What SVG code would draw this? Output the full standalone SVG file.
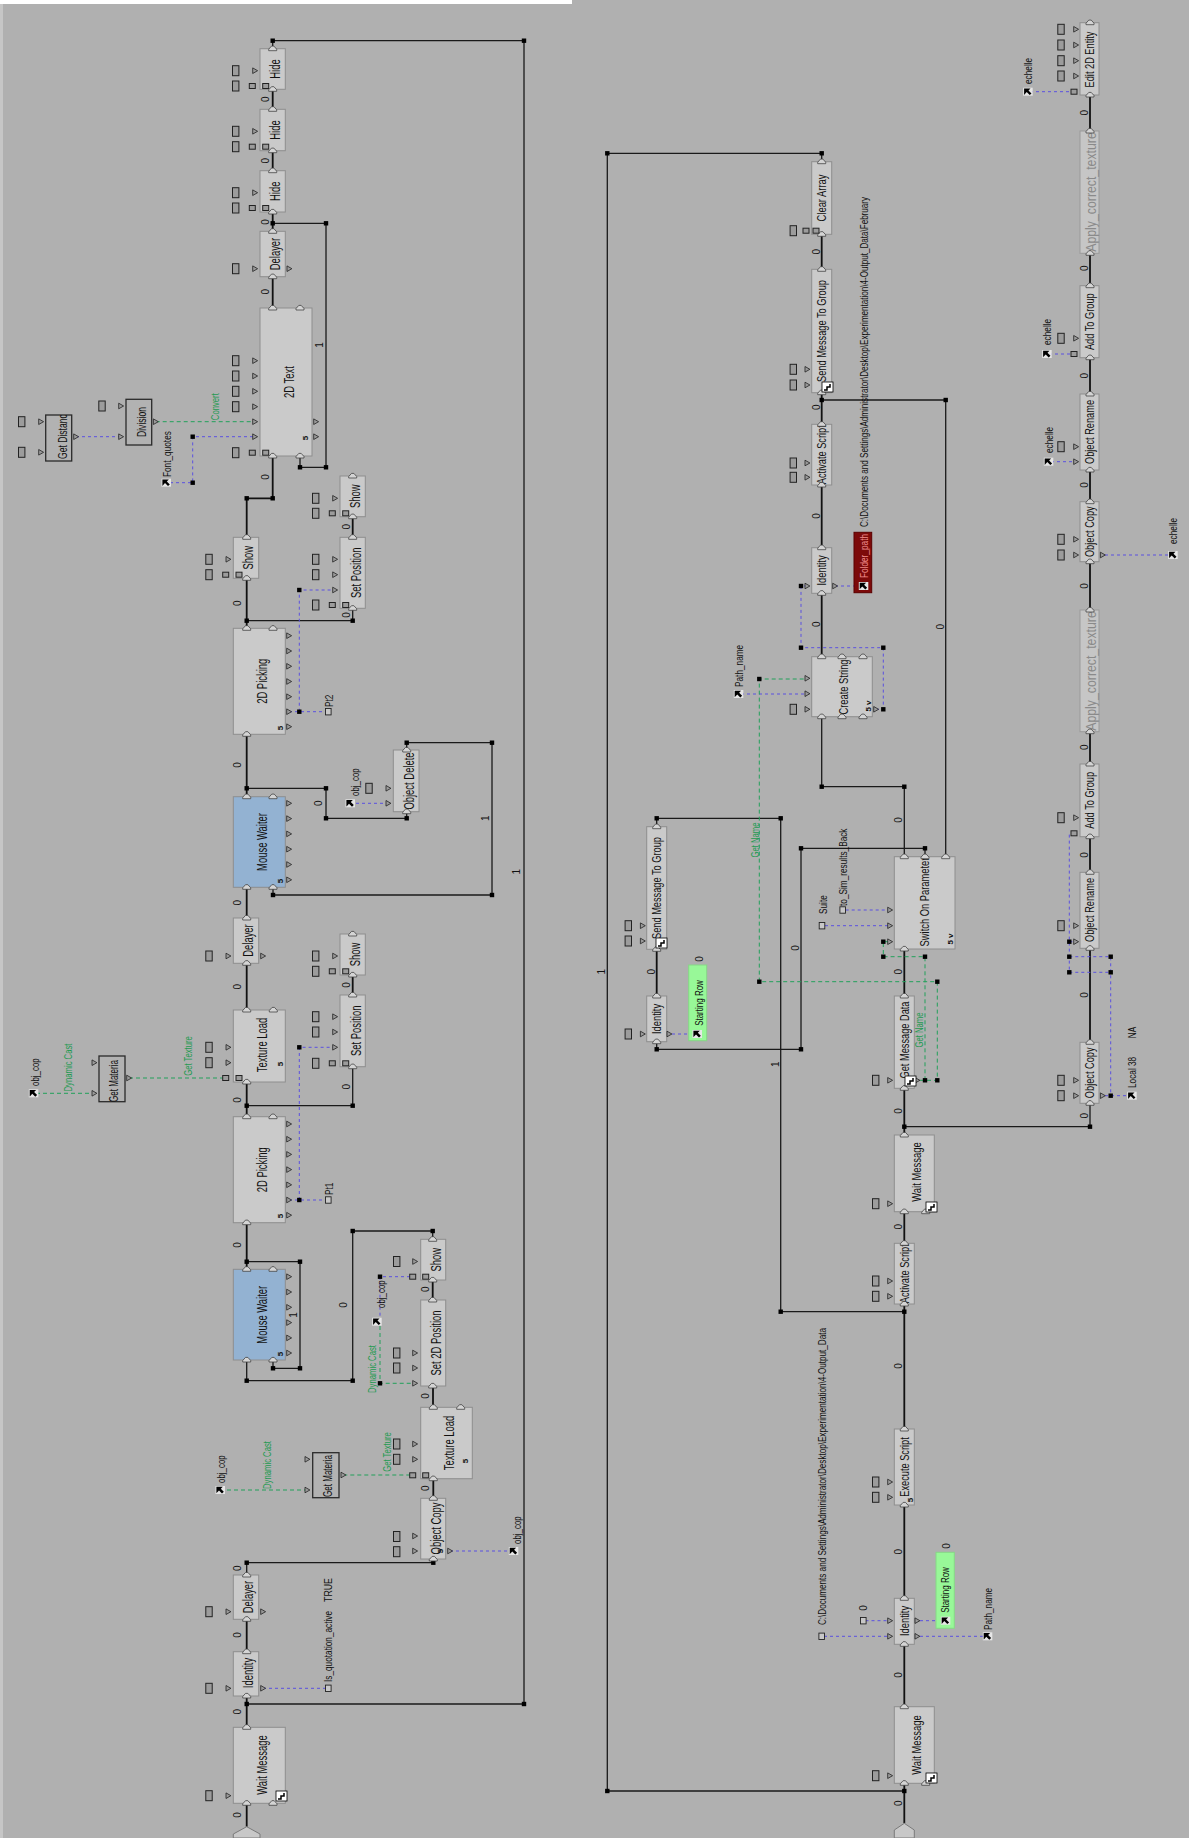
<svg xmlns="http://www.w3.org/2000/svg" width="1189" height="1838" viewBox="0 0 1189 1838">
<style>
.b{fill:#cacaca;stroke:#8e8e8e;stroke-width:1}
.ap{fill:#c6c6c6;stroke:#9a9a9a;stroke-width:1}
.mw{fill:#93b2d2;stroke:#8e8e8e;stroke-width:1}
.op{fill:#b2b2b2;stroke:#2a2a2a;stroke-width:1.3}
.gr{fill:#98f898;stroke:#86d886;stroke-width:1}
text{font-family:"Liberation Sans",Arial,sans-serif;fill:#111}
.L{font-size:15px;text-anchor:middle}
.R{font-size:12px;text-anchor:middle}
.A{font-size:15px;text-anchor:middle;fill:#8a8a8a}
.S{font-size:11px}
.G{font-size:11px;fill:#1e9a50;text-anchor:middle}
.Z{font-size:10px;text-anchor:middle}
.F{font-size:8px;font-weight:bold;text-anchor:middle}
.f{fill:none;stroke:#111;stroke-width:1.8}
.l{fill:none;stroke:#1a1a1a;stroke-width:1.3}
.pb{fill:none;stroke:#5a50e0;stroke-width:1;stroke-dasharray:3 3}
.pg{fill:none;stroke:#22a05a;stroke-width:1;stroke-dasharray:4 3}
</style>
<defs>
<path id="fp" d="M-4,2V0.5L-1.2,-2.6H1.2L4,0.5V2Z" fill="#d4d4d4" stroke="#444" stroke-width="0.8"/>
<path id="pi" d="M-2.3,-2.8L2.6,0L-2.3,2.8Z" fill="#9a9a9a" stroke="#222" stroke-width="0.8"/>
<rect id="sq" x="-3.2" y="-5" width="6.4" height="10" fill="#9c9c9c" stroke="#222" stroke-width="1"/>
<rect id="ss" x="-3" y="-2.5" width="6" height="5" fill="#9c9c9c" stroke="#222" stroke-width="1"/>
<rect id="so" x="-2.8" y="-3.2" width="5.6" height="6.4" fill="#c8c8c8" stroke="#222" stroke-width="0.9"/>
<rect id="jn" x="-2.2" y="-2.2" width="4.4" height="4.4" fill="#000"/>
<g id="ptr"><rect x="-4.5" y="-4" width="9.5" height="8" fill="#e6e6e6"/><path d="M-3.6,3.2V-3.2H2.8L0.8,-1.2L3.8,1.8L2,3.4L-1,0.4L-3,2.6Z" fill="#000"/></g>
<g id="wi"><rect x="0" y="0" width="11" height="10" fill="#fff" stroke="#000" stroke-width="0.8"/><path d="M2,8H5V5H8V2" fill="none" stroke="#000" stroke-width="1.5"/></g>
<clipPath id="cgd"><rect x="45.7" y="415" width="26" height="46"/></clipPath>
</defs>
<rect x="0" y="0" width="1189" height="1838" fill="#b0b0b0"/>
<rect x="0" y="0" width="572" height="4" fill="#ffffff"/>
<rect x="0" y="4" width="3" height="1834" fill="#c6c6c6"/>

<g id="connectors">
<path class="f" d="M272.7 89.3V109.3M272.7 150.7V170.7M272.7 212V231.3M272.7 276.7V308"/>
<path class="l" d="M272.7 48.7V40.7H524V1704H246.7"/>
<path class="l" d="M300 456V467.3H326V223.3H272.7"/>
<path class="f" d="M272.7 456V498.3H246.7V537.3M246.7 578.3V628.3M352.7 537.3V516.7M246.7 734.3V796.7"/>
<path class="l" d="M246.7 620.7H352.7V608.3M246.7 788.3H326V818.3H406.7V811.7"/>
<path class="l" d="M406.7 750V742.7H492V895H273V887.3"/>
<path class="f" d="M246.7 887.3V918M246.7 963.3V1010M246.7 1082V1116.7M352.7 995V975M246.7 1222.7V1269.3"/>
<path class="l" d="M246.7 1105.7H352.7V1066.7M246.7 1261.7H300V1368.3H273V1360"/>
<path class="l" d="M432.7 1239.3V1231H352.7V1380.7H246.7V1360"/>
<path class="f" d="M432.7 1280V1300M433 1386V1407.3M433.3 1478.7V1498.3"/>
<path class="l" d="M433.3 1559V1562.7H246.7V1575"/>
<path class="f" d="M246.7 1619.3V1651.7M246.7 1696V1727.3M246.7 1803.3V1826.7"/>
<path class="l" d="M821.7 161.7V153.3H607.3V1791H904.3"/>
<path class="f" d="M821.7 234.3V269.3M821.7 392.7V424.3M821.7 485V547.7M821.7 593.3V656.7"/>
<path class="l" d="M821.7 400H945.7V856.7M821.7 716.7V786.7H904.3V856.7"/>
<path class="l" d="M925 856.7V848.3H801V1049.3H656.7V1041.7"/>
<path class="f" d="M656.7 949.3V996"/>
<path class="l" d="M656.7 826.7V818.3H780.7V1311.7H904.3"/>
<path class="f" d="M904.3 949V996M904.3 1088.3V1135M904.3 1211.7V1243.3M904.3 1304V1429M904.3 1505V1598.3M904.3 1644.3V1706.7M904.3 1783.3V1823.3"/>
<path class="l" d="M904.3 1126.7H1090V1103.3"/>
<path class="f" d="M1090 95V131M1090 253.3V285.7M1090 357.7V394M1090 470V501.7M1090 561.7V610M1090 731.7V764M1090 836.7V872.3M1090 948.3V1042.3"/>
<path class="pb" d="M76 436.7H119M170 482.7H192.7V436.7H253M289 711.7H326M299.3 711.7V590H333M289 1200H326M299.3 1200V1047.3H333M350 803.3H386M263 1688.3H326M450 1551H510M380 1321.7V1276.7H410"/>
<path class="pg" d="M155.7 421.7H253M129 1078H223M36 1093.3H92M343.3 1475H410M220 1490H305M380 1326V1383.3H413"/>
<path class="pb" d="M835 586H860M876 709.3H883.3V647.7H801V586H805M741 694H805M825 925.7H888M845.7 910H888M672 1034H694M865.5 1620.7H888M824 1636.3H888M920 1620.7H943M920 1636.3H985M1030 91.7H1072M1049 354H1072M1051 461.7H1074M1105 555H1170M1074 833.3H1069.3V972.3M1069.3 941.7H1074M1069.3 956.7H1110.7V1095.7M1069.3 972.3H1110.7M1105 1095.7H1129"/>
<path class="pg" d="M920 1080.3H937.3V981.7H759.3V679H805M925 1080.3V956.7H883.3V941.7H888"/>
<g id="junctions">
<use href="#jn" x="272.7" y="40.7"/><use href="#jn" x="524" y="40.7"/><use href="#jn" x="524" y="1704"/><use href="#jn" x="246.7" y="1704"/>
<use href="#jn" x="272.7" y="223.3"/><use href="#jn" x="326" y="223.3"/><use href="#jn" x="300" y="467.3"/><use href="#jn" x="326" y="467.3"/>
<use href="#jn" x="272.7" y="498.3"/><use href="#jn" x="246.7" y="498.3"/><use href="#jn" x="246.7" y="620.7"/><use href="#jn" x="352.7" y="620.7"/>
<use href="#jn" x="246.7" y="788.3"/><use href="#jn" x="326" y="788.3"/><use href="#jn" x="326" y="818.3"/><use href="#jn" x="406.7" y="818.3"/>
<use href="#jn" x="406.7" y="742.7"/><use href="#jn" x="492" y="742.7"/><use href="#jn" x="492" y="895"/><use href="#jn" x="273" y="895"/>
<use href="#jn" x="246.7" y="1105.7"/><use href="#jn" x="352.7" y="1105.7"/><use href="#jn" x="246.7" y="1261.7"/><use href="#jn" x="300" y="1261.7"/>
<use href="#jn" x="300" y="1368.3"/><use href="#jn" x="273" y="1368.3"/><use href="#jn" x="432.7" y="1231"/><use href="#jn" x="352.7" y="1231"/>
<use href="#jn" x="352.7" y="1380.7"/><use href="#jn" x="246.7" y="1380.7"/><use href="#jn" x="433.3" y="1562.7"/><use href="#jn" x="246.7" y="1562.7"/>
<use href="#jn" x="192.7" y="482.7"/><use href="#jn" x="192.7" y="436.7"/><use href="#jn" x="299.3" y="711.7"/><use href="#jn" x="299.3" y="590"/>
<use href="#jn" x="299.3" y="1200"/><use href="#jn" x="299.3" y="1047.3"/><use href="#jn" x="380" y="1276.7"/><use href="#jn" x="380" y="1383.3"/>
<use href="#jn" x="821.7" y="153.3"/><use href="#jn" x="607.3" y="153.3"/><use href="#jn" x="607.3" y="1791"/><use href="#jn" x="904.3" y="1791"/>
<use href="#jn" x="821.7" y="400"/><use href="#jn" x="945.7" y="400"/><use href="#jn" x="821.7" y="786.7"/><use href="#jn" x="904.3" y="786.7"/>
<use href="#jn" x="925" y="848.3"/><use href="#jn" x="801" y="848.3"/><use href="#jn" x="801" y="1049.3"/><use href="#jn" x="656.7" y="1049.3"/>
<use href="#jn" x="656.7" y="818.3"/><use href="#jn" x="780.7" y="818.3"/><use href="#jn" x="780.7" y="1311.7"/><use href="#jn" x="904.3" y="1311.7"/>
<use href="#jn" x="904.3" y="1126.7"/><use href="#jn" x="1090" y="1126.7"/><use href="#jn" x="883.3" y="709.3"/><use href="#jn" x="883.3" y="647.7"/>
<use href="#jn" x="801" y="647.7"/><use href="#jn" x="801" y="586"/><use href="#jn" x="759.3" y="679"/><use href="#jn" x="759.3" y="981.7"/>
<use href="#jn" x="937.3" y="981.7"/><use href="#jn" x="937.3" y="1080.3"/><use href="#jn" x="925" y="1080.3"/><use href="#jn" x="925" y="956.7"/>
<use href="#jn" x="883.3" y="956.7"/><use href="#jn" x="883.3" y="941.7"/><use href="#jn" x="1069.3" y="941.7"/><use href="#jn" x="1069.3" y="956.7"/>
<use href="#jn" x="1069.3" y="972.3"/><use href="#jn" x="1110.7" y="956.7"/><use href="#jn" x="1110.7" y="972.3"/><use href="#jn" x="1110.7" y="1095.7"/>
</g>
<g id="link-labels">
<text class="Z" transform="translate(269 99.3) rotate(-90)">0</text>
<text class="Z" transform="translate(269 160.7) rotate(-90)">0</text>
<text class="Z" transform="translate(269 222) rotate(-90)">0</text>
<text class="Z" transform="translate(269 291.7) rotate(-90)">0</text>
<text class="Z" transform="translate(322.5 345) rotate(-90)">1</text>
<text class="Z" transform="translate(269 477) rotate(-90)">0</text>
<text class="Z" transform="translate(241 603.3) rotate(-90)">0</text>
<text class="Z" transform="translate(350 615) rotate(-90)">0</text>
<text class="Z" transform="translate(350 526.7) rotate(-90)">0</text>
<text class="Z" transform="translate(241 765) rotate(-90)">0</text>
<text class="Z" transform="translate(321.5 803.3) rotate(-90)">0</text>
<text class="Z" transform="translate(488.5 818.3) rotate(-90)">1</text>
<text class="Z" transform="translate(520 871.7) rotate(-90)">1</text>
<text class="Z" transform="translate(241 902.7) rotate(-90)">0</text>
<text class="Z" transform="translate(241 986.7) rotate(-90)">0</text>
<text class="Z" transform="translate(350 985) rotate(-90)">0</text>
<text class="Z" transform="translate(241 1100) rotate(-90)">0</text>
<text class="Z" transform="translate(350 1086.7) rotate(-90)">0</text>
<text class="Z" transform="translate(241 1245) rotate(-90)">0</text>
<text class="Z" transform="translate(296.5 1315) rotate(-90)">1</text>
<text class="Z" transform="translate(346.5 1305) rotate(-90)">0</text>
<text class="Z" transform="translate(428.5 1289.3) rotate(-90)">0</text>
<text class="Z" transform="translate(428.5 1396) rotate(-90)">0</text>
<text class="Z" transform="translate(428.5 1488.3) rotate(-90)">0</text>
<text class="Z" transform="translate(241 1568.3) rotate(-90)">0</text>
<text class="Z" transform="translate(241 1635) rotate(-90)">0</text>
<text class="Z" transform="translate(241 1711.7) rotate(-90)">0</text>
<text class="Z" transform="translate(241 1815) rotate(-90)">0</text>
<text class="Z" transform="translate(819.5 251.7) rotate(-90)">0</text>
<text class="Z" transform="translate(819.5 407.3) rotate(-90)">0</text>
<text class="Z" transform="translate(819.5 516) rotate(-90)">0</text>
<text class="Z" transform="translate(819.5 624.3) rotate(-90)">0</text>
<text class="Z" transform="translate(943.5 626.7) rotate(-90)">0</text>
<text class="Z" transform="translate(901.8 820) rotate(-90)">0</text>
<text class="Z" transform="translate(798.5 948) rotate(-90)">0</text>
<text class="Z" transform="translate(605.2 971.7) rotate(-90)">1</text>
<text class="Z" transform="translate(654.5 971.7) rotate(-90)">0</text>
<text class="Z" transform="translate(778.5 1064.3) rotate(-90)">1</text>
<text class="Z" transform="translate(901.8 971.7) rotate(-90)">0</text>
<text class="Z" transform="translate(901.8 1111) rotate(-90)">0</text>
<text class="Z" transform="translate(1087.5 1115.7) rotate(-90)">0</text>
<text class="Z" transform="translate(901.8 1226.7) rotate(-90)">0</text>
<text class="Z" transform="translate(901.8 1366) rotate(-90)">0</text>
<text class="Z" transform="translate(901.8 1551.7) rotate(-90)">0</text>
<text class="Z" transform="translate(901.8 1675) rotate(-90)">0</text>
<text class="Z" transform="translate(901.8 1803.3) rotate(-90)">0</text>
<text class="Z" transform="translate(1087.5 112.7) rotate(-90)">0</text>
<text class="Z" transform="translate(1087.5 268.3) rotate(-90)">0</text>
<text class="Z" transform="translate(1087.5 375.7) rotate(-90)">0</text>
<text class="Z" transform="translate(1087.5 485) rotate(-90)">0</text>
<text class="Z" transform="translate(1087.5 586) rotate(-90)">0</text>
<text class="Z" transform="translate(1087.5 747.3) rotate(-90)">0</text>
<text class="Z" transform="translate(1087.5 855) rotate(-90)">0</text>
<text class="Z" transform="translate(1087.5 995) rotate(-90)">0</text>
</g>
</g>

<!-- ===== Script 1 ===== -->
<g id="hide1"><rect class="b" x="260" y="48.7" width="25.3" height="40.6"/><text class="L" transform="translate(280 69) rotate(-90) scale(.63 1)">Hide</text><use href="#fp" x="272.7" y="48.7"/><use href="#fp" x="272.7" y="89.3"/><use href="#sq" x="235.7" y="70.7"/><use href="#pi" x="255" y="70.7"/><use href="#sq" x="235.7" y="86"/><use href="#ss" x="252.3" y="86"/><use href="#ss" x="265.7" y="86"/></g>
<g id="hide2"><rect class="b" x="260" y="109.3" width="25.3" height="41.4"/><text class="L" transform="translate(280 130) rotate(-90) scale(.63 1)">Hide</text><use href="#fp" x="272.7" y="109.3"/><use href="#fp" x="272.7" y="150.7"/><use href="#sq" x="235.7" y="131.3"/><use href="#pi" x="255" y="131.3"/><use href="#sq" x="235.7" y="146.7"/><use href="#ss" x="252.3" y="146.7"/><use href="#ss" x="265.7" y="146.7"/></g>
<g id="hide3"><rect class="b" x="260" y="170.7" width="25.3" height="41.3"/><text class="L" transform="translate(280 191.3) rotate(-90) scale(.63 1)">Hide</text><use href="#fp" x="272.7" y="170.7"/><use href="#fp" x="272.7" y="212"/><use href="#sq" x="235.7" y="192.7"/><use href="#pi" x="255" y="192.7"/><use href="#sq" x="235.7" y="208"/><use href="#ss" x="252.3" y="208"/><use href="#ss" x="265.7" y="208"/></g>
<g id="delayer1"><rect class="b" x="260" y="231.3" width="25.3" height="45.4"/><text class="L" transform="translate(280 254) rotate(-90) scale(.63 1)">Delayer</text><use href="#fp" x="272.7" y="231.3"/><use href="#fp" x="272.7" y="276.7"/><use href="#sq" x="235.7" y="268.7"/><use href="#pi" x="255" y="268.7"/><use href="#pi" x="289.3" y="268.7"/></g>
<g id="text2d"><rect class="b" x="260" y="308" width="52" height="148"/><text class="L" transform="translate(293.5 382) rotate(-90) scale(.63 1)">2D Text</text><use href="#fp" x="272.7" y="308"/><use href="#fp" x="300" y="308"/><use href="#fp" x="272.7" y="456"/><use href="#fp" x="300" y="456"/>
<use href="#sq" x="235.7" y="360.7"/><use href="#pi" x="255" y="360.7"/><use href="#sq" x="235.7" y="376"/><use href="#pi" x="255" y="376"/><use href="#sq" x="235.7" y="391.3"/><use href="#pi" x="255" y="391.3"/><use href="#sq" x="235.7" y="406.7"/><use href="#pi" x="255" y="406.7"/><use href="#pi" x="255" y="421.7"/><use href="#pi" x="255" y="436.7"/><use href="#sq" x="235.7" y="452.7"/><use href="#ss" x="252.3" y="452.7"/><use href="#ss" x="265.7" y="452.7"/><use href="#pi" x="316" y="421.7"/><use href="#pi" x="316" y="436.7"/><text class="F" transform="translate(308 438) rotate(-90)">5</text></g>
<g id="division"><rect class="op" x="126" y="399.3" width="25.7" height="45.7"/><text class="L" style="font-size:13px" transform="translate(146 422) rotate(-90) scale(.66 1)">Division</text><use href="#sq" x="102" y="406"/><use href="#pi" x="121" y="406"/><use href="#pi" x="121" y="436.7"/><use href="#pi" x="155.7" y="421.7"/></g>
<g id="getdistance"><rect class="op" x="45.7" y="415" width="26" height="46"/><g clip-path="url(#cgd)"><text class="L" style="font-size:13px;text-anchor:start" transform="translate(66.5 459) rotate(-90) scale(.66 1)">Get Distance</text></g><use href="#sq" x="21.7" y="421.7"/><use href="#pi" x="41" y="421.7"/><use href="#sq" x="21.7" y="452.3"/><use href="#pi" x="41" y="452.3"/><use href="#pi" x="76" y="436.7"/></g>
<g id="font-quotes"><use href="#ptr" x="166" y="482.7"/><text class="S" transform="translate(170.5 477) rotate(-90) scale(.75 1)">Font_quotes</text></g>
<text class="G" transform="translate(219 406.7) rotate(-90) scale(.7 1)">Convert</text>
<g id="show1"><rect class="b" x="233.3" y="537.3" width="25.4" height="41"/><text class="L" transform="translate(253.3 557.8) rotate(-90) scale(.63 1)">Show</text><use href="#fp" x="246.7" y="537.3"/><use href="#fp" x="246.7" y="578.3"/><use href="#sq" x="209" y="559.3"/><use href="#pi" x="228.3" y="559.3"/><use href="#sq" x="209" y="574.7"/><use href="#ss" x="225.7" y="574.7"/><use href="#ss" x="239" y="574.7"/></g>
<g id="show2"><rect class="b" x="340" y="476" width="25.3" height="40.7"/><text class="L" transform="translate(360 496.3) rotate(-90) scale(.63 1)">Show</text><use href="#fp" x="352.7" y="476"/><use href="#fp" x="352.7" y="516.7"/><use href="#sq" x="315.7" y="498.3"/><use href="#pi" x="335" y="498.3"/><use href="#sq" x="315.7" y="513.3"/><use href="#ss" x="332.3" y="513.3"/><use href="#ss" x="345.7" y="513.3"/></g>
<g id="setpos1"><rect class="b" x="340" y="537.3" width="25.3" height="71"/><text class="L" transform="translate(360.5 572.8) rotate(-90) scale(.63 1)">Set Position</text><use href="#fp" x="352.7" y="537.3"/><use href="#fp" x="352.7" y="608.3"/><use href="#sq" x="315.7" y="559.3"/><use href="#pi" x="335" y="559.3"/><use href="#sq" x="315.7" y="574.7"/><use href="#pi" x="335" y="574.7"/><use href="#pi" x="335" y="590"/><use href="#sq" x="315.7" y="605"/><use href="#ss" x="332.3" y="605"/><use href="#ss" x="345.7" y="605"/></g>
<g id="pt2"><use href="#so" x="328.3" y="711.7"/><text class="S" transform="translate(332.5 707) rotate(-90) scale(.75 1)">Pt2</text></g>
<g id="picking1"><rect class="b" x="233.3" y="628.3" width="52" height="106"/><text class="L" transform="translate(266.8 681.3) rotate(-90) scale(.63 1)">2D Picking</text><use href="#fp" x="246.7" y="628.3"/><use href="#fp" x="273" y="628.3"/><use href="#fp" x="246.7" y="734.3"/><use href="#pi" x="289" y="635.7"/><use href="#pi" x="289" y="651"/><use href="#pi" x="289" y="666.3"/><use href="#pi" x="289" y="681.5"/><use href="#pi" x="289" y="696.7"/><use href="#pi" x="289" y="711.7"/><use href="#pi" x="289" y="726.7"/><text class="F" transform="translate(282.5 728) rotate(-90)">5</text></g>
<g id="mousewaiter1"><rect class="mw" x="233.3" y="796.7" width="52" height="90.6"/><text class="L" transform="translate(266.8 842) rotate(-90) scale(.63 1)">Mouse Waiter</text><use href="#fp" x="246.7" y="796.7"/><use href="#fp" x="273" y="796.7"/><use href="#fp" x="246.7" y="887.3"/><use href="#fp" x="273" y="887.3"/><use href="#pi" x="289" y="803.3"/><use href="#pi" x="289" y="818.6"/><use href="#pi" x="289" y="833.9"/><use href="#pi" x="289" y="849.2"/><use href="#pi" x="289" y="864.5"/><use href="#pi" x="289" y="879.8"/><text class="F" transform="translate(282.5 881) rotate(-90)">5</text></g>
<g id="objdelete"><rect class="b" x="393.3" y="750" width="25.7" height="61.7"/><text class="L" transform="translate(414 781) rotate(-90) scale(.63 1)">Object Delete</text><use href="#fp" x="406.7" y="750"/><use href="#fp" x="406.7" y="811.7"/><use href="#sq" x="369" y="788.3"/><use href="#pi" x="388.3" y="788.3"/><use href="#pi" x="388.3" y="803.3"/><use href="#ptr" x="350" y="803.3"/><text class="S" transform="translate(359 796) rotate(-90) scale(.72 1)">obj_cop</text></g>
<g id="delayer2"><rect class="b" x="233.3" y="918" width="25.4" height="45.3"/><text class="L" transform="translate(253.3 940.5) rotate(-90) scale(.63 1)">Delayer</text><use href="#fp" x="246.7" y="918"/><use href="#fp" x="246.7" y="963.3"/><use href="#sq" x="209" y="956"/><use href="#pi" x="228.3" y="956"/><use href="#pi" x="263" y="956"/></g>
<g id="texload1"><rect class="b" x="233.3" y="1010" width="52" height="72"/><text class="L" transform="translate(266.8 1045) rotate(-90) scale(.63 1)">Texture Load</text><use href="#fp" x="246.7" y="1010"/><use href="#fp" x="273.3" y="1010"/><use href="#fp" x="246.7" y="1082"/><use href="#sq" x="209" y="1047.3"/><use href="#pi" x="228.3" y="1047.3"/><use href="#sq" x="209" y="1062.7"/><use href="#pi" x="228.3" y="1062.7"/><use href="#ss" x="225.7" y="1078"/><use href="#ss" x="239" y="1078"/><text class="F" transform="translate(283 1064) rotate(-90)">5</text></g>
<g id="getmat1"><rect class="op" x="99" y="1056" width="26" height="45.7"/><text class="L" style="font-size:13px" transform="translate(117.5 1081) rotate(-90) scale(.62 1)">Get Materia</text><use href="#pi" x="94.3" y="1062.7"/><use href="#pi" x="94.3" y="1093.3"/><use href="#pi" x="129" y="1078"/></g>
<g id="objcop1"><use href="#ptr" x="33.3" y="1093.3"/><text class="S" transform="translate(38.5 1086) rotate(-90) scale(.72 1)">obj_cop</text></g>
<text class="G" transform="translate(71.7 1067.5) rotate(-90) scale(.7 1)">Dynamic Cast</text>
<text class="G" transform="translate(192 1056) rotate(-90) scale(.7 1)">Get Texture</text>
<g id="show3"><rect class="b" x="340" y="934" width="25.3" height="41"/><text class="L" transform="translate(360 954.5) rotate(-90) scale(.63 1)">Show</text><use href="#fp" x="352.7" y="934"/><use href="#fp" x="352.7" y="975"/><use href="#sq" x="315.7" y="956"/><use href="#pi" x="335" y="956"/><use href="#sq" x="315.7" y="971.3"/><use href="#ss" x="332.3" y="971.3"/><use href="#ss" x="345.7" y="971.3"/></g>
<g id="setpos2"><rect class="b" x="340" y="995" width="25.3" height="71.7"/><text class="L" transform="translate(360.5 1030.8) rotate(-90) scale(.63 1)">Set Position</text><use href="#fp" x="352.7" y="995"/><use href="#fp" x="352.7" y="1066.7"/><use href="#sq" x="315.7" y="1016.7"/><use href="#pi" x="335" y="1016.7"/><use href="#sq" x="315.7" y="1032"/><use href="#pi" x="335" y="1032"/><use href="#pi" x="335" y="1047.3"/><use href="#sq" x="315.7" y="1063.3"/><use href="#ss" x="332.3" y="1063.3"/><use href="#ss" x="345.7" y="1063.3"/></g>
<g id="pt1"><use href="#so" x="328.3" y="1200"/><text class="S" transform="translate(332.5 1195) rotate(-90) scale(.75 1)">Pt1</text></g>
<g id="picking2"><rect class="b" x="233.3" y="1116.7" width="52" height="106"/><text class="L" transform="translate(266.8 1169.7) rotate(-90) scale(.63 1)">2D Picking</text><use href="#fp" x="246.7" y="1116.7"/><use href="#fp" x="273" y="1116.7"/><use href="#fp" x="246.7" y="1222.7"/><use href="#pi" x="289" y="1124"/><use href="#pi" x="289" y="1139.2"/><use href="#pi" x="289" y="1154.4"/><use href="#pi" x="289" y="1169.6"/><use href="#pi" x="289" y="1184.8"/><use href="#pi" x="289" y="1200"/><use href="#pi" x="289" y="1215.2"/><text class="F" transform="translate(282.5 1216) rotate(-90)">5</text></g>
<g id="mousewaiter2"><rect class="mw" x="233.3" y="1269.3" width="52" height="90.7"/><text class="L" transform="translate(266.8 1314.7) rotate(-90) scale(.63 1)">Mouse Waiter</text><use href="#fp" x="246.7" y="1269.3"/><use href="#fp" x="273" y="1269.3"/><use href="#fp" x="246.7" y="1360"/><use href="#fp" x="273" y="1360"/><use href="#pi" x="289" y="1276.7"/><use href="#pi" x="289" y="1292"/><use href="#pi" x="289" y="1307.3"/><use href="#pi" x="289" y="1322.6"/><use href="#pi" x="289" y="1337.9"/><use href="#pi" x="289" y="1353"/><text class="F" transform="translate(282.5 1354) rotate(-90)">5</text></g>
<g id="show4"><rect class="b" x="420.7" y="1239.3" width="25" height="40.7"/><text class="L" transform="translate(440.7 1259.7) rotate(-90) scale(.63 1)">Show</text><use href="#fp" x="432.7" y="1239.3"/><use href="#fp" x="432.7" y="1280"/><use href="#sq" x="396.7" y="1261.5"/><use href="#pi" x="415" y="1261.5"/><use href="#ss" x="412.7" y="1276.7"/><use href="#ss" x="425.7" y="1276.7"/></g>
<g id="objcop2"><use href="#ptr" x="376.7" y="1321.7"/><text class="S" transform="translate(384.5 1308) rotate(-90) scale(.72 1)">obj_cop</text></g>
<text class="G" transform="translate(375.5 1369) rotate(-90) scale(.7 1)">Dynamic Cast</text>
<g id="set2dpos"><rect class="b" x="420.7" y="1300" width="25" height="86"/><text class="L" transform="translate(440.7 1343) rotate(-90) scale(.63 1)">Set 2D Position</text><use href="#fp" x="432.7" y="1300"/><use href="#fp" x="432.7" y="1386"/><use href="#sq" x="396.7" y="1353"/><use href="#pi" x="415" y="1353"/><use href="#sq" x="396.7" y="1368"/><use href="#pi" x="415" y="1368"/><use href="#pi" x="415" y="1383.3"/></g>
<g id="texload2"><rect class="b" x="420.7" y="1407.3" width="51.6" height="71.4"/><text class="L" transform="translate(454 1443) rotate(-90) scale(.63 1)">Texture Load</text><use href="#fp" x="433.3" y="1407.3"/><use href="#fp" x="460.7" y="1407.3"/><use href="#fp" x="433.3" y="1478.7"/><use href="#sq" x="396.7" y="1444"/><use href="#pi" x="415" y="1444"/><use href="#sq" x="396.7" y="1459.3"/><use href="#pi" x="415" y="1459.3"/><use href="#ss" x="412.7" y="1475.3"/><use href="#ss" x="425.7" y="1475.3"/><text class="F" transform="translate(468 1461) rotate(-90)">5</text></g>
<g id="getmat2"><rect class="op" x="312.7" y="1452.7" width="26.3" height="45"/><text class="L" style="font-size:13px" transform="translate(331.5 1476) rotate(-90) scale(.62 1)">Get Materia</text><use href="#pi" x="307.3" y="1459.3"/><use href="#pi" x="307.3" y="1490"/><use href="#pi" x="343.3" y="1475"/></g>
<g id="objcop3"><use href="#ptr" x="220" y="1490"/><text class="S" transform="translate(225 1483) rotate(-90) scale(.72 1)">obj_cop</text></g>
<text class="G" transform="translate(271 1465) rotate(-90) scale(.7 1)">Dynamic Cast</text>
<text class="G" transform="translate(391 1452) rotate(-90) scale(.7 1)">Get Texture</text>
<g id="objcopy1"><rect class="b" x="420.7" y="1498.3" width="25" height="60.7"/><text class="L" transform="translate(440.7 1528.5) rotate(-90) scale(.63 1)">Object Copy</text><use href="#fp" x="433.3" y="1498.3"/><use href="#fp" x="433.3" y="1559"/><use href="#sq" x="396.7" y="1536.5"/><use href="#pi" x="415" y="1536"/><use href="#sq" x="396.7" y="1551.7"/><use href="#pi" x="415" y="1551"/><use href="#pi" x="450" y="1551"/><text class="F" transform="translate(443 1551) rotate(-90)">5</text><use href="#ptr" x="513.3" y="1551"/><text class="S" transform="translate(520.5 1544) rotate(-90) scale(.72 1)">obj_cop</text></g>
<g id="delayer3"><rect class="b" x="233.3" y="1575" width="25.4" height="44.3"/><text class="L" transform="translate(253.3 1597) rotate(-90) scale(.63 1)">Delayer</text><use href="#fp" x="246.7" y="1575"/><use href="#fp" x="246.7" y="1619.3"/><use href="#sq" x="209" y="1611.7"/><use href="#pi" x="228.3" y="1611.7"/><use href="#pi" x="263" y="1611.7"/></g>
<g id="identity1"><rect class="b" x="233.3" y="1651.7" width="25.4" height="44.3"/><text class="L" transform="translate(253.3 1673) rotate(-90) scale(.63 1)">Identity</text><use href="#fp" x="246.7" y="1651.7"/><use href="#fp" x="246.7" y="1696"/><use href="#sq" x="209" y="1688.3"/><use href="#pi" x="228.3" y="1688.3"/><use href="#pi" x="263" y="1688.3"/><use href="#so" x="328.3" y="1688.3"/><text class="S" transform="translate(332 1682) rotate(-90) scale(.75 1)">Is_quotation_active</text><text class="S" style="text-anchor:middle" transform="translate(332 1590) rotate(-90) scale(.8 1)">TRUE</text></g>
<g id="waitmsg1"><rect class="b" x="233.3" y="1727.3" width="52" height="76"/><text class="L" transform="translate(266.8 1765) rotate(-90) scale(.63 1)">Wait Message</text><use href="#fp" x="246.7" y="1727.3"/><use href="#fp" x="246.7" y="1803.3"/><use href="#fp" x="273" y="1803.3"/><use href="#sq" x="209" y="1795.7"/><use href="#pi" x="228.3" y="1795.7"/><use href="#wi" x="276" y="1791"/></g>
<g id="start1"><path d="M233.3 1838V1834L246.7 1826.7L260 1834V1838Z" fill="#c8c8c8" stroke="#7a7a7a"/></g>

<!-- ===== Script 2 ===== -->
<g id="cleararray"><rect class="b" x="811.7" y="161.7" width="20" height="72.6"/><text class="R" transform="translate(826.2 198) rotate(-90) scale(.78 1)">Clear Array</text><use href="#fp" x="821.7" y="161.7"/><use href="#fp" x="821.7" y="234.3"/><use href="#sq" x="793.3" y="230.7"/><use href="#ss" x="806" y="230.7"/><use href="#ss" x="816" y="230.7"/></g>
<g id="sendmsg1"><rect class="b" x="811.7" y="269.3" width="20" height="123.4"/><text class="R" transform="translate(826.2 331) rotate(-90) scale(.77 1)">Send Message To Group</text><use href="#fp" x="821.7" y="269.3"/><use href="#fp" x="821.7" y="392.7"/><use href="#sq" x="793.3" y="369.3"/><use href="#pi" x="807.3" y="369.3"/><use href="#sq" x="793.3" y="385"/><use href="#pi" x="807.3" y="385"/><use href="#wi" x="822" y="382"/></g>
<g id="actscript1"><rect class="b" x="811.7" y="424.3" width="20" height="60.7"/><text class="R" transform="translate(826.2 454.7) rotate(-90) scale(.77 1)">Activate Script</text><use href="#fp" x="821.7" y="424.3"/><use href="#fp" x="821.7" y="485"/><use href="#sq" x="793.3" y="463"/><use href="#pi" x="807.3" y="463"/><use href="#sq" x="793.3" y="477.3"/><use href="#pi" x="807.3" y="477.3"/></g>
<g id="identity3"><rect class="b" x="811.7" y="547.7" width="20" height="45.6"/><text class="R" transform="translate(826.2 570.5) rotate(-90) scale(.78 1)">Identity</text><use href="#fp" x="821.7" y="547.7"/><use href="#fp" x="821.7" y="593.3"/><use href="#pi" x="807.3" y="586"/><use href="#pi" x="835" y="586"/></g>
<g id="folderpath"><rect x="854" y="532.3" width="17.7" height="60.4" fill="#7c0a0a" stroke="#5a0000"/><use href="#ptr" x="863.3" y="586"/><text class="S" style="text-anchor:middle;fill:#f08a8a" transform="translate(867.5 556) rotate(-90) scale(.75 1)">Folder_path</text></g>
<text class="S" textLength="330" lengthAdjust="spacingAndGlyphs" transform="translate(868 527) rotate(-90)">C:\Documents and Settings\Administrator\Desktop\Experimentation\4-Output_Data\February</text>
<g id="createstring"><rect class="b" x="811.7" y="656.7" width="60.6" height="60"/><text class="R" transform="translate(848 687) rotate(-90) scale(.78 1)">Create String</text><use href="#fp" x="821.7" y="656.7"/><use href="#fp" x="842" y="656.7"/><use href="#fp" x="863" y="656.7"/><use href="#fp" x="821.7" y="716.7"/><use href="#fp" x="842" y="716.7"/><use href="#fp" x="863" y="716.7"/><use href="#pi" x="807.3" y="678.3"/><use href="#pi" x="807.3" y="693.7"/><use href="#pi" x="807.3" y="709.3"/><use href="#sq" x="793.3" y="709.3"/><use href="#pi" x="876" y="709.3"/><text class="F" transform="translate(871 706) rotate(-90)">5 v</text></g>
<g id="pathname1"><use href="#ptr" x="738.3" y="694"/><text class="S" transform="translate(742.5 687) rotate(-90) scale(.75 1)">Path_name</text></g>
<text class="G" transform="translate(759 840) rotate(-90) scale(.7 1)">Get Name</text>
<g id="switch"><rect class="b" x="894.3" y="856.7" width="60.7" height="92.3"/><text class="R" transform="translate(929.3 902) rotate(-90) scale(.78 1)">Switch On Parameter</text><use href="#fp" x="904.3" y="856.7"/><use href="#fp" x="925" y="856.7"/><use href="#fp" x="945.7" y="856.7"/><use href="#fp" x="904.3" y="949"/><use href="#pi" x="890" y="910"/><use href="#pi" x="890" y="925.7"/><use href="#pi" x="890" y="941.7"/><text class="F" transform="translate(953 939) rotate(-90)">5 v</text></g>
<g id="suite"><use href="#so" x="822" y="925.7"/><text class="S" transform="translate(826.5 914) rotate(-90) scale(.75 1)">Suite</text></g>
<g id="to-sim"><use href="#so" x="842.7" y="910"/><text class="S" transform="translate(846.5 906) rotate(-90) scale(.75 1)">to_Sim_results_Back</text></g>
<g id="sendmsg2"><rect class="b" x="646.7" y="826.7" width="20" height="122.6"/><text class="R" transform="translate(661.2 888) rotate(-90) scale(.77 1)">Send Message To Group</text><use href="#fp" x="656.7" y="826.7"/><use href="#fp" x="656.7" y="949.3"/><use href="#sq" x="628.3" y="925.7"/><use href="#pi" x="642.7" y="925.7"/><use href="#sq" x="628.3" y="941"/><use href="#pi" x="642.7" y="941"/><use href="#wi" x="656" y="938"/></g>
<g id="identity4"><rect class="b" x="646.7" y="996" width="20" height="45.7"/><text class="R" transform="translate(661.2 1019) rotate(-90) scale(.78 1)">Identity</text><use href="#fp" x="656.7" y="996"/><use href="#fp" x="656.7" y="1041.7"/><use href="#sq" x="628.3" y="1034"/><use href="#pi" x="642.7" y="1034"/><use href="#pi" x="669.3" y="1034"/></g>
<g id="startingrow1"><rect class="gr" x="688.7" y="965" width="18" height="75.7"/><use href="#ptr" x="697" y="1034"/><text class="S" style="text-anchor:middle;font-size:10px" transform="translate(703 1003) rotate(-90) scale(.8 1)">Starting Row</text><text class="Z" transform="translate(702.8 959) rotate(-90)">0</text></g>
<g id="getmsgdata"><rect class="b" x="894.3" y="996" width="20" height="92.3"/><text class="R" transform="translate(908.8 1040) rotate(-90) scale(.77 1)">Get Message Data</text><use href="#fp" x="904.3" y="996"/><use href="#fp" x="904.3" y="1088.3"/><use href="#sq" x="875.7" y="1080.3"/><use href="#pi" x="890" y="1080.3"/><use href="#pi" x="917.3" y="1080.3"/><use href="#wi" x="905" y="1076"/></g>
<text class="G" transform="translate(922.5 1030) rotate(-90) scale(.7 1)">Get Name</text>
<g id="waitmsg3"><rect class="b" x="894.3" y="1135" width="40" height="76.7"/><text class="R" transform="translate(920.7 1172) rotate(-90) scale(.79 1)">Wait Message</text><use href="#fp" x="904.3" y="1135"/><use href="#fp" x="904.3" y="1211.7"/><use href="#fp" x="925.7" y="1211.7"/><use href="#sq" x="875.7" y="1203.7"/><use href="#pi" x="890" y="1203.7"/><use href="#wi" x="926" y="1202"/></g>
<g id="actscript2"><rect class="b" x="894.3" y="1243.3" width="20" height="60.7"/><text class="R" transform="translate(908.8 1273.7) rotate(-90) scale(.77 1)">Activate Script</text><use href="#fp" x="904.3" y="1243.3"/><use href="#fp" x="904.3" y="1304"/><use href="#sq" x="875.7" y="1281"/><use href="#pi" x="890" y="1281"/><use href="#sq" x="875.7" y="1296.3"/><use href="#pi" x="890" y="1296.3"/></g>
<text class="S" textLength="297" lengthAdjust="spacingAndGlyphs" transform="translate(825.5 1625) rotate(-90)">C:\Documents and Settings\Administrator\Desktop\Experimentation\4-Output_Data</text>
<g id="execscript"><rect class="b" x="894.3" y="1429" width="20" height="76"/><text class="R" transform="translate(908.8 1467) rotate(-90) scale(.77 1)">Execute Script</text><use href="#fp" x="904.3" y="1429"/><use href="#fp" x="904.3" y="1505"/><use href="#sq" x="875.7" y="1482"/><use href="#pi" x="890" y="1482"/><use href="#sq" x="875.7" y="1497.3"/><use href="#pi" x="890" y="1497.3"/><text class="F" transform="translate(913 1500) rotate(-90)">5</text></g>
<g id="identity2"><rect class="b" x="894.3" y="1598.3" width="20" height="46"/><text class="R" transform="translate(908.8 1621) rotate(-90) scale(.78 1)">Identity</text><use href="#fp" x="904.3" y="1598.3"/><use href="#fp" x="904.3" y="1644.3"/><use href="#pi" x="890" y="1620.7"/><use href="#pi" x="890" y="1636.3"/><use href="#pi" x="917.3" y="1620.7"/><use href="#pi" x="917.3" y="1636.3"/><use href="#so" x="863.3" y="1620.7"/><text class="Z" transform="translate(866.5 1608) rotate(-90)">0</text><use href="#so" x="821.7" y="1636.3"/></g>
<g id="startingrow2"><rect class="gr" x="936" y="1552.3" width="18.3" height="76"/><use href="#ptr" x="945.3" y="1620.7"/><text class="S" style="text-anchor:middle;font-size:10px" transform="translate(949 1590) rotate(-90) scale(.8 1)">Starting Row</text><text class="Z" transform="translate(950 1546) rotate(-90)">0</text></g>
<g id="pathname2"><use href="#ptr" x="987.3" y="1636.3"/><text class="S" transform="translate(991.5 1630) rotate(-90) scale(.75 1)">Path_name</text></g>
<g id="waitmsg2"><rect class="b" x="894.3" y="1706.7" width="40" height="76.6"/><text class="R" transform="translate(920.7 1745) rotate(-90) scale(.79 1)">Wait Message</text><use href="#fp" x="904.3" y="1706.7"/><use href="#fp" x="904.3" y="1783.3"/><use href="#fp" x="925.7" y="1783.3"/><use href="#sq" x="875.7" y="1775.7"/><use href="#pi" x="890" y="1775.7"/><use href="#wi" x="926" y="1773"/></g>
<g id="start2"><path d="M894.3 1838V1830L904.3 1823.3L914.3 1830V1838Z" fill="#c8c8c8" stroke="#7a7a7a"/></g>

<g id="edit2d"><rect class="b" x="1080" y="22.7" width="19" height="72.3"/><text class="R" transform="translate(1094 59.5) rotate(-90) scale(.77 1)">Edit 2D Entity</text><use href="#fp" x="1090" y="22.7"/><use href="#fp" x="1090" y="95"/><use href="#sq" x="1061" y="29.3"/><use href="#pi" x="1076" y="29.3"/><use href="#sq" x="1061" y="45"/><use href="#pi" x="1076" y="45"/><use href="#sq" x="1061" y="60.7"/><use href="#pi" x="1076" y="60.7"/><use href="#sq" x="1061" y="76"/><use href="#pi" x="1076" y="76"/><use href="#ss" x="1074" y="91.7"/><use href="#ptr" x="1027.7" y="91.7"/><text class="S" transform="translate(1032 84) rotate(-90) scale(.75 1)">echelle</text></g>
<g id="apply1"><rect class="ap" x="1080" y="131" width="19" height="122.3"/><text class="A" transform="translate(1095.5 192) rotate(-90) scale(.82 1)">Apply_correct_texture</text><use href="#fp" x="1090" y="131"/><use href="#fp" x="1090" y="253.3"/></g>
<g id="addgroup1"><rect class="b" x="1080" y="285.7" width="19" height="72"/><text class="R" transform="translate(1094 321.7) rotate(-90) scale(.77 1)">Add To Group</text><use href="#fp" x="1090" y="285.7"/><use href="#fp" x="1090" y="357.7"/><use href="#sq" x="1061" y="338.3"/><use href="#pi" x="1076" y="338.3"/><use href="#ss" x="1074" y="354"/><use href="#ptr" x="1046.7" y="354"/><text class="S" transform="translate(1051 345) rotate(-90) scale(.75 1)">echelle</text></g>
<g id="objrename1"><rect class="b" x="1080" y="394" width="19" height="76"/><text class="R" transform="translate(1094 432) rotate(-90) scale(.77 1)">Object Rename</text><use href="#fp" x="1090" y="394"/><use href="#fp" x="1090" y="470"/><use href="#sq" x="1061" y="446.7"/><use href="#pi" x="1076" y="446.7"/><use href="#pi" x="1076" y="461.7"/><use href="#ptr" x="1048.3" y="461.7"/><text class="S" transform="translate(1052.5 453) rotate(-90) scale(.75 1)">echelle</text></g>
<g id="objcopy2"><rect class="b" x="1080" y="501.7" width="19" height="60"/><text class="R" transform="translate(1094 531.7) rotate(-90) scale(.77 1)">Object Copy</text><use href="#fp" x="1090" y="501.7"/><use href="#fp" x="1090" y="561.7"/><use href="#sq" x="1061" y="539.3"/><use href="#pi" x="1076" y="539.3"/><use href="#sq" x="1061" y="555"/><use href="#pi" x="1076" y="555"/><use href="#pi" x="1102.7" y="555"/><use href="#ptr" x="1172.7" y="555"/><text class="S" transform="translate(1176.5 544) rotate(-90) scale(.75 1)">echelle</text></g>
<g id="apply2"><rect class="ap" x="1080" y="610" width="19" height="121.7"/><text class="A" transform="translate(1095.5 671) rotate(-90) scale(.82 1)">Apply_correct_texture</text><use href="#fp" x="1090" y="610"/><use href="#fp" x="1090" y="731.7"/></g>
<g id="addgroup2"><rect class="b" x="1080" y="764" width="19" height="72.7"/><text class="R" transform="translate(1094 800.3) rotate(-90) scale(.77 1)">Add To Group</text><use href="#fp" x="1090" y="764"/><use href="#fp" x="1090" y="836.7"/><use href="#sq" x="1061" y="817.7"/><use href="#pi" x="1076" y="817.7"/><use href="#ss" x="1074" y="833.3"/></g>
<g id="objrename2"><rect class="b" x="1080" y="872.3" width="19" height="76"/><text class="R" transform="translate(1094 910) rotate(-90) scale(.77 1)">Object Rename</text><use href="#fp" x="1090" y="872.3"/><use href="#fp" x="1090" y="948.3"/><use href="#sq" x="1061" y="925.7"/><use href="#pi" x="1076" y="925.7"/><use href="#pi" x="1076" y="941.7"/></g>
<g id="objcopy3"><rect class="b" x="1080" y="1042.3" width="19" height="61"/><text class="R" transform="translate(1094 1072.8) rotate(-90) scale(.77 1)">Object Copy</text><use href="#fp" x="1090" y="1042.3"/><use href="#fp" x="1090" y="1103.3"/><use href="#sq" x="1061" y="1080.3"/><use href="#pi" x="1076" y="1080.3"/><use href="#sq" x="1061" y="1095.7"/><use href="#pi" x="1076" y="1095.7"/><use href="#pi" x="1102.7" y="1095.7"/><use href="#ptr" x="1131.7" y="1095.7"/><text class="S" transform="translate(1135.5 1088) rotate(-90) scale(.75 1)">Local 38</text><text class="S" style="text-anchor:middle" transform="translate(1135.5 1032.5) rotate(-90) scale(.75 1)">NA</text></g>
</svg>
